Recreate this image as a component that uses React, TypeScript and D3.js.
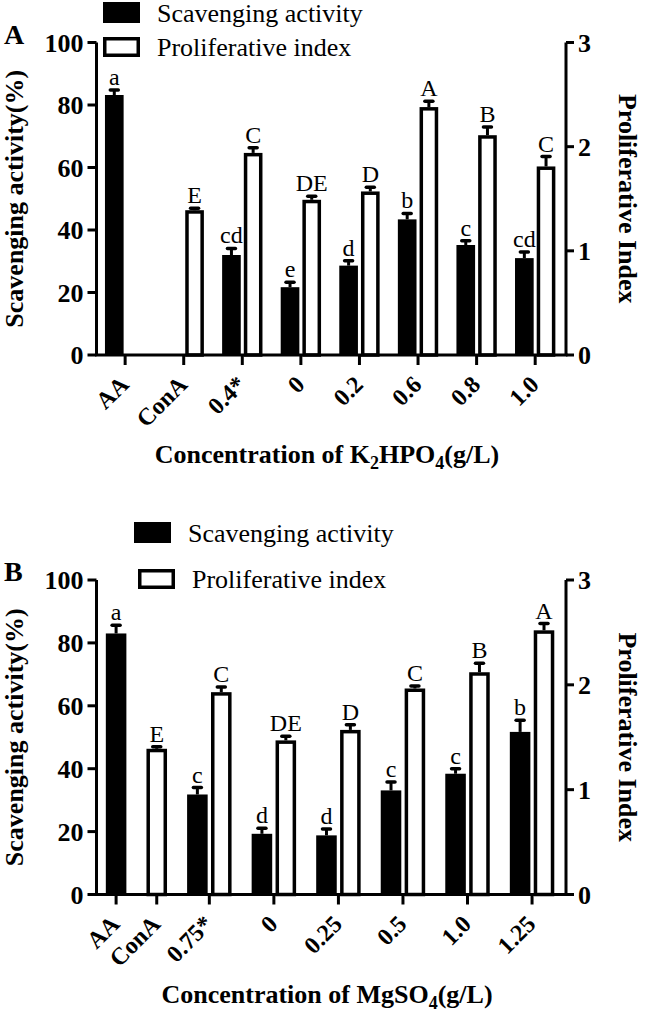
import React from "react";
import * as d3 from "d3";

// ---------- data ----------
const catsA = ["AA", "ConA", "0.4*", "0", "0.2", "0.6", "0.8", "1.0"];
const scavA = [83.2, null, 32.0, 21.7, 28.6, 43.4, 35.2, 31.0];
const scavErrA = [1.6, null, 2.1, 1.6, 1.6, 1.9, 1.4, 2.0];
const piA = [null, 1.39, 1.94, 1.49, 1.57, 2.38, 2.11, 1.81];
const piErrA = [null, 0.02, 0.05, 0.035, 0.04, 0.055, 0.08, 0.095];
const scavLetA = ["a", "", "cd", "e", "d", "b", "c", "cd"];
const piLetA = ["", "E", "C", "DE", "D", "A", "B", "C"];

const catsB = ["AA", "ConA", "0.75*", "0", "0.25", "0.5", "1.0", "1.25"];
const scavB = [83.0, null, 31.8, 19.3, 18.8, 33.1, 38.4, 51.7];
const scavErrB = [2.6, null, 2.2, 1.8, 2.0, 2.7, 1.6, 3.7];
const piB = [null, 1.39, 1.93, 1.47, 1.57, 1.965, 2.12, 2.52];
const piErrB = [null, 0.02, 0.05, 0.04, 0.05, 0.025, 0.085, 0.065];
const scavLetB = ["a", "", "c", "d", "d", "c", "c", "b"];
const piLetB = ["", "E", "C", "DE", "D", "C", "B", "A"];

const leftTicks = [0, 20, 40, 60, 80, 100];
const rightTicks = [0, 1, 2, 3];
const seriesNames = ["Scavenging activity", "Proliferative index"];

// title pieces: [text, isSubscript]
const titleA: [string, boolean][] = [["Concentration of K", false], ["2", true], ["HPO", false], ["4", true], ["(g/L)", false]];
const titleB: [string, boolean][] = [["Concentration of MgSO", false], ["4", true], ["(g/L)", false]];

const FONT = "'Liberation Serif', 'Times New Roman', serif";

type PanelProps = {
  letter: string;
  cats: string[];
  scav: (number | null)[];
  scavErr: (number | null)[];
  pi: (number | null)[];
  piErr: (number | null)[];
  scavLet: string[];
  piLet: string[];
  compact: boolean;
  top: number;
  bottom: number;
  legendX: number;
  legendY: number;
  legendDX: number;
  legendDY: number;
  title: [string, boolean][];
};

function Panel(p: PanelProps) {
  const axisL = 96.5;
  const axisR = 566;
  const WITHIN = 1;
  const BETWEEN = 1.7;
  const PADL = 0.82;
  const PADR = 0.92;
  const BW = 0.86;

  type Slot = { cat: number; series: number; u: number };
  const slots: Slot[] = [];
  let u = 0;
  let first = true;
  p.cats.forEach((c, i) => {
    const present = [p.scav[i] != null, p.pi[i] != null];
    let j0 = true;
    [0, 1].forEach((s) => {
      if (p.compact && !present[s]) return;
      if (!first) u += j0 ? BETWEEN : WITHIN;
      slots.push({ cat: i, series: s, u });
      first = false;
      j0 = false;
    });
  });
  const uMin = slots[0].u - PADL;
  const uMax = slots[slots.length - 1].u + PADR;
  const x = d3.scaleLinear().domain([uMin, uMax]).range([axisL, axisR]);
  const bw = x(BW) - x(0);
  const yL = d3.scaleLinear().domain([0, 100]).range([p.bottom, p.top]);
  const yR = d3.scaleLinear().domain([0, 3]).range([p.bottom, p.top]);

  const tickX = p.cats.map((_, i) => {
    const ss = slots.filter((s) => s.cat === i);
    return d3.mean(ss, (s) => x(s.u)) as number;
  });

  const bars: React.ReactNode[] = [];
  slots.forEach((s, k) => {
    const i = s.cat;
    const val = s.series === 0 ? p.scav[i] : p.pi[i];
    if (val == null) return;
    const err = (s.series === 0 ? p.scavErr[i] : p.piErr[i]) as number;
    const y = s.series === 0 ? yL : yR;
    const cx = x(s.u);
    const yTop = y(val);
    const yErr = y(val + err);
    const lab = s.series === 0 ? p.scavLet[i] : p.piLet[i];
    bars.push(
      <g key={k}>
        <line x1={cx} x2={cx} y1={yTop} y2={yErr} stroke="#000" strokeWidth={3} />
        <line x1={cx - 4} x2={cx + 4} y1={yErr} y2={yErr} stroke="#000" strokeWidth={3.5} strokeLinecap="round" />
        {s.series === 0 ? (
          <rect x={cx - bw / 2} y={yTop} width={bw} height={p.bottom - yTop} fill="#000" />
        ) : (
          <rect x={cx - bw / 2 + 1.75} y={yTop + 1.75} width={bw - 3.5} height={p.bottom - yTop - 1.75} fill="#fff" stroke="#000" strokeWidth={3.5} />
        )}
        <text x={cx} y={yErr - 5} textAnchor="middle" fontSize={24} fontFamily={FONT}>{lab}</text>
      </g>
    );
  });

  const mid = (p.top + p.bottom) / 2;
  const lx = p.legendX;
  const ly = p.legendY;

  let prevSub = false;
  const titleSpans = p.title.map(([t, sub], k) => {
    const dy = sub ? (prevSub ? 0 : 6) : prevSub ? -6 : 0;
    prevSub = sub;
    return (
      <tspan key={k} dy={dy} fontSize={sub ? 18 : 26}>{t}</tspan>
    );
  });

  return (
    <g>
      <text x={4} y={p.top + 1} fontSize={28} fontWeight="bold" fontFamily={FONT}>{p.letter}</text>
      {/* legend */}
      <rect x={lx} y={ly} width={37} height={21} fill="#000" />
      <text x={lx + 54} y={ly + 20} fontSize={26} fontFamily={FONT}>{seriesNames[0]}</text>
      <rect x={lx + p.legendDX + 1.75} y={ly + p.legendDY + 1.75} width={37 - 3.5} height={20 - 3.5} fill="#fff" stroke="#000" strokeWidth={3.5} />
      <text x={lx + p.legendDX + 54} y={ly + p.legendDY + 19} fontSize={26} fontFamily={FONT}>{seriesNames[1]}</text>

      {bars}

      {/* left axis */}
      <line x1={axisL} x2={axisL} y1={p.top} y2={p.bottom} stroke="#000" strokeWidth={3} />
      {leftTicks.map((t) => (
        <g key={"l" + t}>
          <line x1={axisL - 9} x2={axisL} y1={yL(t)} y2={yL(t)} stroke="#000" strokeWidth={3} />
          <text x={axisL - 13} y={yL(t)} dy="0.36em" textAnchor="end" fontSize={26} fontWeight="bold" fontFamily={FONT}>{t}</text>
        </g>
      ))}
      {/* right axis */}
      <line x1={axisR} x2={axisR} y1={p.top} y2={p.bottom} stroke="#000" strokeWidth={3} />
      {rightTicks.map((t) => (
        <g key={"r" + t}>
          <line x1={axisR} x2={axisR + 8} y1={yR(t)} y2={yR(t)} stroke="#000" strokeWidth={3} />
          <text x={axisR + 12} y={yR(t)} dy="0.36em" textAnchor="start" fontSize={26} fontWeight="bold" fontFamily={FONT}>{t}</text>
        </g>
      ))}
      {/* bottom axis */}
      <line x1={axisL - 1.5} x2={axisR + 1.5} y1={p.bottom} y2={p.bottom} stroke="#000" strokeWidth={3} />
      {p.cats.map((c, i) => (
        <g key={"b" + i}>
          <line x1={tickX[i]} x2={tickX[i]} y1={p.bottom} y2={p.bottom + 10} stroke="#000" strokeWidth={3} />
          <text transform={`translate(${tickX[i] + 5},${p.bottom + 31}) rotate(-45)`} textAnchor="end" fontSize={24} fontWeight="bold" fontFamily={FONT}>{c}</text>
        </g>
      ))}
      {/* axis titles */}
      <text transform={`translate(23,${mid}) rotate(-90)`} textAnchor="middle" fontSize={26} fontWeight="bold" fontFamily={FONT}>Scavenging activity(%)</text>
      <text transform={`translate(619,${mid}) rotate(90)`} textAnchor="middle" fontSize={26} fontWeight="bold" fontFamily={FONT}>Proliferative Index</text>
      <text x={327} y={p.bottom + 108} textAnchor="middle" fontWeight="bold" fontFamily={FONT}>
        {titleSpans}
      </text>
    </g>
  );
}

export default function App() {
  return (
    <svg width={646} height={1016} style={{ position: "absolute", left: 0, top: 0, background: "#fff" }}>
      <rect width={646} height={1016} fill="#fff" />
      <Panel
        letter="A"
        cats={catsA}
        scav={scavA}
        scavErr={scavErrA}
        pi={piA}
        piErr={piErrA}
        scavLet={scavLetA}
        piLet={piLetA}
        compact={false}
        top={42.5}
        bottom={355}
        legendX={103}
        legendY={2}
        legendDX={0}
        legendDY={35}
        title={titleA}
      />
      <Panel
        letter="B"
        cats={catsB}
        scav={scavB}
        scavErr={scavErrB}
        pi={piB}
        piErr={piErrB}
        scavLet={scavLetB}
        piLet={piLetB}
        compact={true}
        top={580}
        bottom={894.5}
        legendX={134}
        legendY={522}
        legendDX={4}
        legendDY={47}
        title={titleB}
      />
    </svg>
  );
}
